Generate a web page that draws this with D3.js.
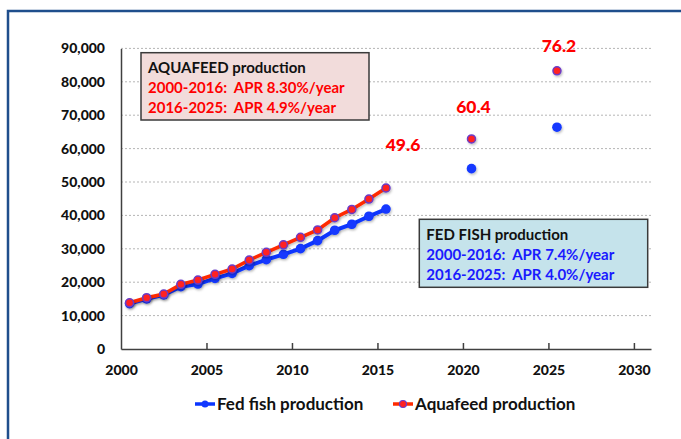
<!DOCTYPE html>
<html>
<head>
<meta charset="utf-8">
<script src="https://cdn.jsdelivr.net/npm/d3@7"></script>
<style>
    body { margin: 0; background: #fff; }
    svg { display: block; font-family: Lato, "Open Sans", sans-serif; font-weight: bold; }
    svg text { white-space: pre; }
    .axis path, .axis line { stroke: #404040; stroke-width: 1.5; }
    .axis text { font-family: Lato, sans-serif; font-weight: 900; font-size: 14px; fill: #111; }
</style>
</head>
<body>
<svg width="681" height="439"></svg>
<script>
// historic series (2000-2015, plotted at mid-year)
var histYears = [2000, 2001, 2002, 2003, 2004, 2005, 2006, 2007, 2008, 2009, 2010, 2011, 2012, 2013, 2014, 2015];
var fedFish = [13600, 15000, 16200, 18650, 19450, 21150, 22650, 24950, 26750, 28350, 30050, 32450, 35550, 37350, 39750, 41900];
var aquafeed = [13850, 15350, 16450, 19350, 20650, 22350, 23950, 26650, 28950, 31200, 33450, 35650, 39300, 41800, 44900, 48200];

// projections
var projYears = [2020, 2025];
var fedFishProj = [54000, 66400];
var aquafeedProj = [62900, 83300];

// red value labels (million t)
var labelYears = [2015, 2020, 2025];
var labelValues = [48200, 62900, 83300];
var labelTexts = ["49.6", "60.4", "76.2"];

var yTicks = [0, 10000, 20000, 30000, 40000, 50000, 60000, 70000, 80000, 90000];
var xTicks = [2000, 2005, 2010, 2015, 2020, 2025, 2030];

var svg = d3.select("svg");

// outer frame
svg.append("rect")
    .attr("x", 8).attr("y", 11)
    .attr("width", 700).attr("height", 460)
    .attr("fill", "none")
    .attr("stroke", "#1f4e8c")
    .attr("stroke-width", 2.5);

var x = d3.scaleLinear().domain([2000, 2031]).range([121, 651]);
var y = d3.scaleLinear().domain([0, 90000]).range([349, 48.4]);

var defs = svg.append("defs");
var f = defs.append("filter").attr("id", "shadow")
    .attr("x", "-50%").attr("y", "-50%").attr("width", "200%").attr("height", "200%");
f.append("feDropShadow")
    .attr("dx", 1).attr("dy", 1.5).attr("stdDeviation", 1)
    .attr("flood-color", "#000").attr("flood-opacity", 0.25);

// gridlines
svg.append("g").selectAll("line")
    .data(yTicks.filter(function(d) { return d > 0; }))
    .enter().append("line")
    .attr("x1", x(2000)).attr("x2", x(2031))
    .attr("y1", function(d) { return y(d); })
    .attr("y2", function(d) { return y(d); })
    .attr("stroke", "#b5b5b5")
    .attr("stroke-width", 1)
    .attr("stroke-dasharray", "2,2");

// axes
svg.append("g")
    .attr("class", "axis")
    .attr("transform", "translate(0," + y(0) + ")")
    .call(d3.axisBottom(x).tickValues(xTicks).tickFormat(d3.format("d")).tickSizeInner(-6).tickSizeOuter(0).tickPadding(16))
    .selectAll(".tick line").filter(function(d) { return d === 2000; }).remove();

svg.append("g")
    .attr("class", "axis")
    .attr("transform", "translate(" + x(2000) + ",0)")
    .call(d3.axisLeft(y).tickValues(yTicks).tickFormat(d3.format(",")).tickSize(0).tickPadding(16));

// text boxes
function noteBox(bx, by, bw, bh, fill, title, lines, color) {
    var g = svg.append("g");
    g.append("rect")
        .attr("x", bx).attr("y", by).attr("width", bw).attr("height", bh)
        .attr("fill", fill).attr("stroke", "#3a3a3a").attr("stroke-width", 1.5);
    g.append("text").attr("x", bx + 7).attr("y", by + 15).attr("dy", "0.35em")
        .attr("font-size", 15).attr("fill", "#111").text(title);
    lines.forEach(function(t, i) {
        g.append("text").attr("x", bx + 7).attr("y", by + 35 + i * 20).attr("dy", "0.35em")
            .attr("font-size", 15).attr("fill", color).text(t);
    });
}
noteBox(141, 52.7, 228, 67.3, "#f2dcdb", "AQUAFEED production",
    ["2000-2016:  APR 8.30%/year", "2016-2025:  APR 4.9%/year"], "#ff0000");
noteBox(419.3, 219.3, 228.4, 68, "#c5e3eb", "FED FISH production",
    ["2000-2016:  APR 7.4%/year", "2016-2025:  APR 4.0%/year"], "#1a1aff");

var line = d3.line()
    .x(function(d) { return x(d[0] + 0.5); })
    .y(function(d) { return y(d[1]); });

var fedPts = histYears.map(function(d, i) { return [d, fedFish[i]]; });
var feedPts = histYears.map(function(d, i) { return [d, aquafeed[i]]; });
var fedProjPts = projYears.map(function(d, i) { return [d, fedFishProj[i]]; });
var feedProjPts = projYears.map(function(d, i) { return [d, aquafeedProj[i]]; });

// fed fish series
svg.append("path").datum(fedPts)
    .attr("d", line).attr("fill", "none")
    .attr("stroke", "#0a35ff").attr("stroke-width", 4)
    .attr("filter", "url(#shadow)");
svg.append("g").attr("filter", "url(#shadow)").selectAll("circle")
    .data(fedPts.concat(fedProjPts))
    .enter().append("circle")
    .attr("cx", function(d) { return x(d[0] + 0.5); })
    .attr("cy", function(d) { return y(d[1]); })
    .attr("r", 4.8)
    .attr("fill", "#1238ff");

// aquafeed series
svg.append("path").datum(feedPts)
    .attr("d", line).attr("fill", "none")
    .attr("stroke", "#ff2a00").attr("stroke-width", 3.5)
    .attr("filter", "url(#shadow)");
svg.append("g").attr("filter", "url(#shadow)").selectAll("circle")
    .data(feedPts.concat(feedProjPts))
    .enter().append("circle")
    .attr("cx", function(d) { return x(d[0] + 0.5); })
    .attr("cy", function(d) { return y(d[1]); })
    .attr("r", 4)
    .attr("fill", "#ff2020")
    .attr("stroke", "#6a3cc8")
    .attr("stroke-width", 1.5);

// value labels
var labelOffsets = [[17, -43], [2, -32], [2, -25]];
svg.append("g").selectAll("text")
    .data(labelTexts)
    .enter().append("text")
    .attr("x", function(d, i) { return x(labelYears[i] + 0.5) + labelOffsets[i][0]; })
    .attr("y", function(d, i) { return y(labelValues[i]) + labelOffsets[i][1]; })
    .attr("dy", "0.35em")
    .attr("text-anchor", "middle")
    .attr("font-size", 17.5)
    .attr("font-weight", 900)
    .attr("fill", "#ff0000")
    .text(function(d) { return d; });

// legend
var legend = [
    { name: "Fed fish production", x: 195, line: "#0a35ff", fill: "#1238ff", stroke: "none" },
    { name: "Aquafeed production", x: 393, line: "#ff2a00", fill: "#ff2020", stroke: "#6a3cc8" }
];
var lg = svg.append("g").selectAll("g").data(legend).enter().append("g")
    .attr("transform", function(d) { return "translate(" + d.x + ",404)"; });
lg.append("line").attr("x1", 0).attr("x2", 20)
    .attr("stroke", function(d) { return d.line; }).attr("stroke-width", 3.5);
lg.append("circle").attr("cx", 10).attr("r", 3.5)
    .attr("fill", function(d) { return d.fill; })
    .attr("stroke", function(d) { return d.stroke; }).attr("stroke-width", 1.2);
lg.append("text").attr("x", 22).attr("dy", "0.35em")
    .attr("font-size", 17).attr("fill", "#111")
    .text(function(d) { return d.name; });
</script>
</body>
</html>
